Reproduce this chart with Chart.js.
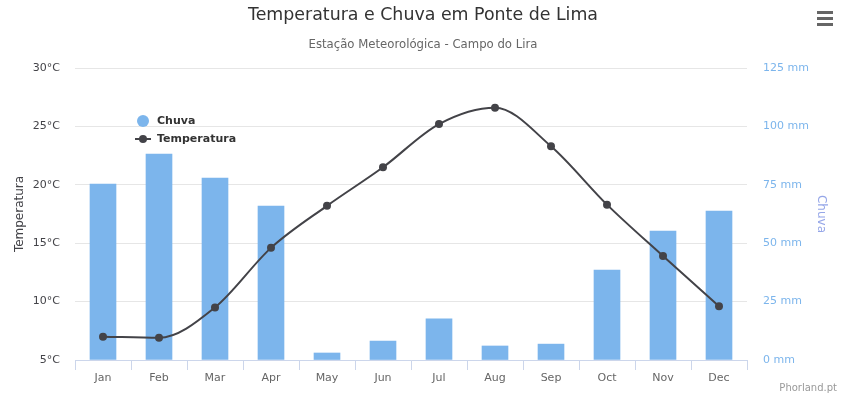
<!DOCTYPE html>
<html lang="pt">
<head>
    <meta charset="UTF-8">
    <title>Temperatura e Chuva em Ponte de Lima</title>
    <script src="https://cdn.jsdelivr.net/npm/chart.js"></script>
    <style>
        body {
            margin: 0;
            background: #fff;
            overflow: hidden;
        }
    </style>
</head>
<body>
    <canvas id="climaChart" width="847" height="397"></canvas>
    <script>
        // Dados do gráfico
        const meses = ['Jan', 'Feb', 'Mar', 'Apr', 'May', 'Jun', 'Jul', 'Aug', 'Sep', 'Oct', 'Nov', 'Dec'];
        const chuva = [75.3, 88.2, 77.9, 65.9, 3.0, 8.1, 17.6, 6.0, 6.8, 38.5, 55.2, 63.8];
        const temperatura = [7.0, 6.9, 9.5, 14.6, 18.2, 21.5, 25.2, 26.6, 23.3, 18.3, 13.9, 9.6];
        const tempTicks = [5, 30, 5];   // min, max, passo
        const chuvaTicks = [0, 125, 25];

        const FONT = '"DejaVu Sans", Verdana, sans-serif';

        // Títulos, legenda, menu e crédito desenhados à mão
        const extras = {
            id: 'extras',
            afterDraw(chart) {
                const c = chart.ctx;
                const area = chart.chartArea;
                c.save();
                c.textBaseline = 'middle';

                c.fillStyle = '#333333';
                c.textAlign = 'center';
                c.font = '17.4px ' + FONT;
                c.fillText('Temperatura e Chuva em Ponte de Lima', 423, 15);
                c.fillStyle = '#666666';
                c.font = '11.7px ' + FONT;
                c.fillText('Estação Meteorológica - Campo do Lira', 423, 45);

                // títulos dos eixos
                c.font = '12px ' + FONT;
                c.save();
                c.translate(20, (area.top + area.bottom) / 2);
                c.rotate(-Math.PI / 2);
                c.fillStyle = '#434348';
                c.fillText('Temperatura', 0, 0);
                c.restore();
                c.save();
                c.translate(821, (area.top + area.bottom) / 2);
                c.rotate(Math.PI / 2);
                c.fillStyle = '#95a6e8';
                c.fillText('Chuva', 0, 0);
                c.restore();

                // legenda
                c.textAlign = 'left';
                c.font = 'bold 11px ' + FONT;
                c.fillStyle = '#7cb5ec';
                c.beginPath();
                c.arc(143, 121, 6, 0, Math.PI * 2);
                c.fill();
                c.strokeStyle = '#434348';
                c.lineWidth = 2;
                c.beginPath();
                c.moveTo(135, 139);
                c.lineTo(151, 139);
                c.stroke();
                c.fillStyle = '#434348';
                c.beginPath();
                c.arc(143, 139, 4, 0, Math.PI * 2);
                c.fill();
                c.fillStyle = '#333333';
                c.fillText('Chuva', 157, 121);
                c.fillText('Temperatura', 157, 139);

                // menu
                c.fillStyle = '#666666';
                [12, 18, 24].forEach(y => c.fillRect(817, y - 1, 16, 3));

                // crédito
                c.textAlign = 'right';
                c.font = '10px ' + FONT;
                c.fillStyle = '#999999';
                c.fillText('Phorland.pt', 837, 388);
                c.restore();
            }
        };

        const ctx = document.getElementById('climaChart').getContext('2d');
        new Chart(ctx, {
            data: {
                labels: meses,
                datasets: [{
                    type: 'line',
                    label: 'Temperatura',
                    data: temperatura,
                    yAxisID: 'y',
                    borderColor: '#434348',
                    backgroundColor: '#434348',
                    borderWidth: 2,
                    pointRadius: 4,
                    pointBorderWidth: 0,
                    pointHoverRadius: 4,
                    cubicInterpolationMode: 'monotone',
                    order: 1
                }, {
                    type: 'bar',
                    label: 'Chuva',
                    data: chuva,
                    yAxisID: 'y1',
                    backgroundColor: '#7cb5ec',
                    barThickness: 26,
                    order: 2
                }]
            },
            options: {
                responsive: false,
                animation: false,
                layout: { padding: { top: 68, left: 0, right: 0, bottom: 0 } },
                plugins: {
                    legend: { display: false },
                    tooltip: { enabled: false }
                },
                scales: {
                    x: {
                        offset: true,
                        grid: {
                            offset: true,
                            drawOnChartArea: false,
                            color: '#ccd6eb',
                            tickLength: 10
                        },
                        border: { color: '#ccd6eb' },
                        ticks: { color: '#666666', font: { family: FONT, size: 11 }, padding: 2 },
                        afterFit(s) { s.height = 37; }
                    },
                    y: {
                        position: 'left',
                        min: tempTicks[0],
                        max: tempTicks[1],
                        grid: { color: '#e6e6e6', drawTicks: false },
                        border: { display: false },
                        ticks: {
                            stepSize: tempTicks[2],
                            color: '#434348',
                            padding: 15,
                            font: { family: FONT, size: 11 },
                            callback: v => v + '°C'
                        },
                        afterFit(s) { s.width = 75; }
                    },
                    y1: {
                        position: 'right',
                        min: chuvaTicks[0],
                        max: chuvaTicks[1],
                        grid: { drawOnChartArea: false, drawTicks: false },
                        border: { display: false },
                        ticks: {
                            stepSize: chuvaTicks[2],
                            color: '#7cb5ec',
                            padding: 16,
                            font: { family: FONT, size: 11 },
                            callback: v => v + ' mm'
                        },
                        afterFit(s) { s.width = 100; }
                    }
                }
            },
            plugins: [extras]
        });
    </script>
</body>
</html>
